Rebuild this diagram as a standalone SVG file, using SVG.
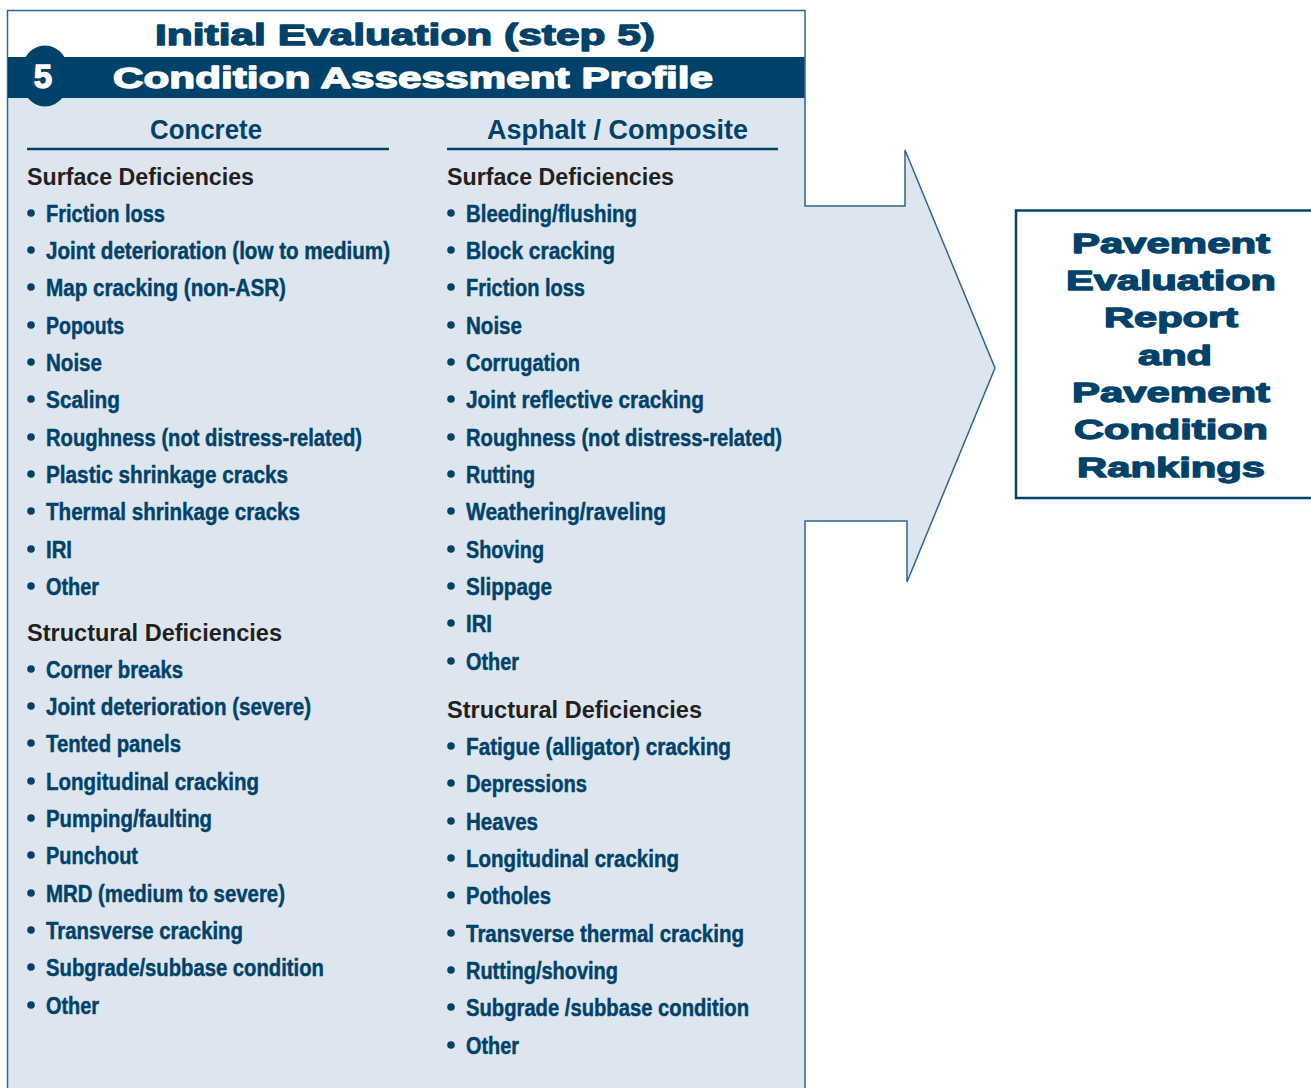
<svg xmlns="http://www.w3.org/2000/svg" width="1311" height="1088" viewBox="0 0 1311 1088">
<style>
.item{font-family:"Liberation Sans",Arial,sans-serif;font-weight:bold;font-size:23px;fill:#00426a;stroke:#00426a;stroke-width:0.45}
.sub{font-family:"Liberation Sans",Arial,sans-serif;font-weight:bold;font-size:23px;fill:#231f20}
.colh{font-family:"Liberation Sans",Arial,sans-serif;font-weight:bold;font-size:27px;fill:#00426a}
.heavy{font-family:"Liberation Sans",Arial,sans-serif;font-weight:bold;stroke-width:1.3;stroke-linejoin:round}
.bul{fill:#00426a}
.rule{stroke:#00426a;stroke-width:2.5}
</style>
<rect width="1311" height="1088" fill="#ffffff"/>
<g id="panel">
<path d="M7.5,98 H805 V206 H905 V150 L995,368 L907,582 V521 H805 V1092 H7.5 Z" fill="#dde6ef"/>
<path d="M7.5,1092 V10.5 H805 V206 H905 V150 L995,368 L907,582 V521 H805 V1092" fill="none" stroke="#2d6690" stroke-width="1.5"/>
<rect x="8" y="57" width="796.5" height="41" fill="#00426a"/>
<ellipse cx="45" cy="76" rx="25" ry="30.5" fill="#00426a"/>
<text x="43" y="88" class="heavy" font-size="33" fill="#ffffff" stroke="#ffffff" text-anchor="middle">5</text>
<text x="155" y="45" class="heavy" font-size="29" fill="#00426a" stroke="#00426a" textLength="500" lengthAdjust="spacingAndGlyphs">Initial Evaluation (step 5)</text>
<text x="113" y="88" class="heavy" font-size="29" fill="#ffffff" stroke="#ffffff" textLength="600" lengthAdjust="spacingAndGlyphs">Condition Assessment Profile</text>
</g>
<g id="concrete">
<text x="150" y="139" class="colh" textLength="112" lengthAdjust="spacingAndGlyphs">Concrete</text>
<line x1="27" y1="149" x2="389" y2="149" class="rule"/>
<text x="27" y="185" class="sub" textLength="227" lengthAdjust="spacingAndGlyphs">Surface Deficiencies</text>
<g class="bul">
<circle cx="31" cy="213" r="3.8"/><circle cx="31" cy="250" r="3.8"/><circle cx="31" cy="287" r="3.8"/><circle cx="31" cy="325" r="3.8"/><circle cx="31" cy="362" r="3.8"/><circle cx="31" cy="399" r="3.8"/><circle cx="31" cy="437" r="3.8"/><circle cx="31" cy="474" r="3.8"/><circle cx="31" cy="511" r="3.8"/><circle cx="31" cy="549" r="3.8"/><circle cx="31" cy="586" r="3.8"/>
<circle cx="31" cy="669" r="3.8"/><circle cx="31" cy="706" r="3.8"/><circle cx="31" cy="743" r="3.8"/><circle cx="31" cy="781" r="3.8"/><circle cx="31" cy="818" r="3.8"/><circle cx="31" cy="855" r="3.8"/><circle cx="31" cy="893" r="3.8"/><circle cx="31" cy="930" r="3.8"/><circle cx="31" cy="967" r="3.8"/><circle cx="31" cy="1005" r="3.8"/>
</g>
<text x="46" y="222" class="item" textLength="119" lengthAdjust="spacingAndGlyphs">Friction loss</text>
<text x="46" y="259" class="item" textLength="344" lengthAdjust="spacingAndGlyphs">Joint deterioration (low to medium)</text>
<text x="46" y="296" class="item" textLength="240" lengthAdjust="spacingAndGlyphs">Map cracking (non-ASR)</text>
<text x="46" y="334" class="item" textLength="78" lengthAdjust="spacingAndGlyphs">Popouts</text>
<text x="46" y="371" class="item" textLength="56" lengthAdjust="spacingAndGlyphs">Noise</text>
<text x="46" y="408" class="item" textLength="74" lengthAdjust="spacingAndGlyphs">Scaling</text>
<text x="46" y="446" class="item" textLength="316" lengthAdjust="spacingAndGlyphs">Roughness (not distress-related)</text>
<text x="46" y="483" class="item" textLength="242" lengthAdjust="spacingAndGlyphs">Plastic shrinkage cracks</text>
<text x="46" y="520" class="item" textLength="254" lengthAdjust="spacingAndGlyphs">Thermal shrinkage cracks</text>
<text x="46" y="558" class="item" textLength="26" lengthAdjust="spacingAndGlyphs">IRI</text>
<text x="46" y="595" class="item" textLength="53" lengthAdjust="spacingAndGlyphs">Other</text>
<text x="27" y="641" class="sub" textLength="255" lengthAdjust="spacingAndGlyphs">Structural Deficiencies</text>
<text x="46" y="678" class="item" textLength="137" lengthAdjust="spacingAndGlyphs">Corner breaks</text>
<text x="46" y="715" class="item" textLength="265" lengthAdjust="spacingAndGlyphs">Joint deterioration (severe)</text>
<text x="46" y="752" class="item" textLength="135" lengthAdjust="spacingAndGlyphs">Tented panels</text>
<text x="46" y="790" class="item" textLength="213" lengthAdjust="spacingAndGlyphs">Longitudinal cracking</text>
<text x="46" y="827" class="item" textLength="166" lengthAdjust="spacingAndGlyphs">Pumping/faulting</text>
<text x="46" y="864" class="item" textLength="92" lengthAdjust="spacingAndGlyphs">Punchout</text>
<text x="46" y="902" class="item" textLength="239" lengthAdjust="spacingAndGlyphs">MRD (medium to severe)</text>
<text x="46" y="939" class="item" textLength="197" lengthAdjust="spacingAndGlyphs">Transverse cracking</text>
<text x="46" y="976" class="item" textLength="278" lengthAdjust="spacingAndGlyphs">Subgrade/subbase condition</text>
<text x="46" y="1014" class="item" textLength="53" lengthAdjust="spacingAndGlyphs">Other</text>
</g>
<g id="asphalt">
<text x="487" y="139" class="colh" textLength="261" lengthAdjust="spacingAndGlyphs">Asphalt / Composite</text>
<line x1="447" y1="149" x2="778" y2="149" class="rule"/>
<text x="447" y="185" class="sub" textLength="227" lengthAdjust="spacingAndGlyphs">Surface Deficiencies</text>
<g class="bul">
<circle cx="451" cy="213" r="3.8"/><circle cx="451" cy="250" r="3.8"/><circle cx="451" cy="287" r="3.8"/><circle cx="451" cy="325" r="3.8"/><circle cx="451" cy="362" r="3.8"/><circle cx="451" cy="399" r="3.8"/><circle cx="451" cy="437" r="3.8"/><circle cx="451" cy="474" r="3.8"/><circle cx="451" cy="511" r="3.8"/><circle cx="451" cy="549" r="3.8"/><circle cx="451" cy="586" r="3.8"/><circle cx="451" cy="623" r="3.8"/><circle cx="451" cy="661" r="3.8"/>
<circle cx="451" cy="746" r="3.8"/><circle cx="451" cy="783" r="3.8"/><circle cx="451" cy="821" r="3.8"/><circle cx="451" cy="858" r="3.8"/><circle cx="451" cy="895" r="3.8"/><circle cx="451" cy="933" r="3.8"/><circle cx="451" cy="970" r="3.8"/><circle cx="451" cy="1007" r="3.8"/><circle cx="451" cy="1045" r="3.8"/>
</g>
<text x="466" y="222" class="item" textLength="171" lengthAdjust="spacingAndGlyphs">Bleeding/flushing</text>
<text x="466" y="259" class="item" textLength="149" lengthAdjust="spacingAndGlyphs">Block cracking</text>
<text x="466" y="296" class="item" textLength="119" lengthAdjust="spacingAndGlyphs">Friction loss</text>
<text x="466" y="334" class="item" textLength="56" lengthAdjust="spacingAndGlyphs">Noise</text>
<text x="466" y="371" class="item" textLength="114" lengthAdjust="spacingAndGlyphs">Corrugation</text>
<text x="466" y="408" class="item" textLength="238" lengthAdjust="spacingAndGlyphs">Joint reflective cracking</text>
<text x="466" y="446" class="item" textLength="316" lengthAdjust="spacingAndGlyphs">Roughness (not distress-related)</text>
<text x="466" y="483" class="item" textLength="69" lengthAdjust="spacingAndGlyphs">Rutting</text>
<text x="466" y="520" class="item" textLength="200" lengthAdjust="spacingAndGlyphs">Weathering/raveling</text>
<text x="466" y="558" class="item" textLength="78" lengthAdjust="spacingAndGlyphs">Shoving</text>
<text x="466" y="595" class="item" textLength="86" lengthAdjust="spacingAndGlyphs">Slippage</text>
<text x="466" y="632" class="item" textLength="26" lengthAdjust="spacingAndGlyphs">IRI</text>
<text x="466" y="670" class="item" textLength="53" lengthAdjust="spacingAndGlyphs">Other</text>
<text x="447" y="718" class="sub" textLength="255" lengthAdjust="spacingAndGlyphs">Structural Deficiencies</text>
<text x="466" y="755" class="item" textLength="265" lengthAdjust="spacingAndGlyphs">Fatigue (alligator) cracking</text>
<text x="466" y="792" class="item" textLength="121" lengthAdjust="spacingAndGlyphs">Depressions</text>
<text x="466" y="830" class="item" textLength="72" lengthAdjust="spacingAndGlyphs">Heaves</text>
<text x="466" y="867" class="item" textLength="213" lengthAdjust="spacingAndGlyphs">Longitudinal cracking</text>
<text x="466" y="904" class="item" textLength="85" lengthAdjust="spacingAndGlyphs">Potholes</text>
<text x="466" y="942" class="item" textLength="278" lengthAdjust="spacingAndGlyphs">Transverse thermal cracking</text>
<text x="466" y="979" class="item" textLength="152" lengthAdjust="spacingAndGlyphs">Rutting/shoving</text>
<text x="466" y="1016" class="item" textLength="283" lengthAdjust="spacingAndGlyphs">Subgrade /subbase condition</text>
<text x="466" y="1054" class="item" textLength="53" lengthAdjust="spacingAndGlyphs">Other</text>
</g>
<g id="report">
<rect x="1016" y="210.5" width="320" height="287.5" fill="#ffffff" stroke="#00426a" stroke-width="2.5"/>
<g class="heavy" font-size="28" fill="#00426a" stroke="#00426a" text-anchor="middle">
<text x="1171" y="253" textLength="198" lengthAdjust="spacingAndGlyphs">Pavement</text>
<text x="1171" y="290" textLength="210" lengthAdjust="spacingAndGlyphs">Evaluation</text>
<text x="1171" y="327" textLength="134" lengthAdjust="spacingAndGlyphs">Report</text>
<text x="1175" y="365" textLength="74" lengthAdjust="spacingAndGlyphs">and</text>
<text x="1171" y="402" textLength="198" lengthAdjust="spacingAndGlyphs">Pavement</text>
<text x="1171" y="439" textLength="194" lengthAdjust="spacingAndGlyphs">Condition</text>
<text x="1171" y="477" textLength="188" lengthAdjust="spacingAndGlyphs">Rankings</text>
</g>
</g>
</svg>
